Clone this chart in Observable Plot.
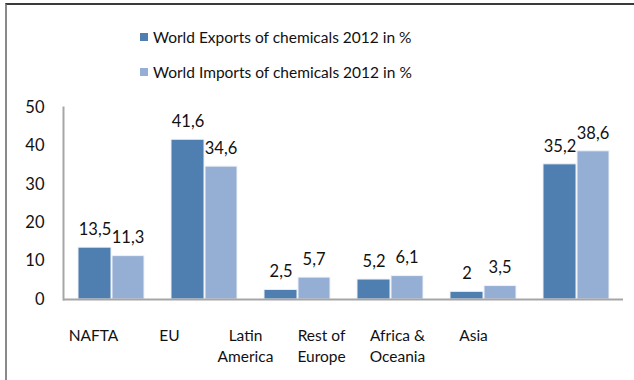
<!DOCTYPE html>
<html>
<head>
<meta charset="utf-8">
<script src="https://cdn.jsdelivr.net/npm/d3@7"></script>
<script src="https://cdn.jsdelivr.net/npm/@observablehq/plot@0.6"></script>
<style>
  html, body { margin: 0; padding: 0; background: #fff; }
  #wrap { position: relative; width: 634px; height: 380px; overflow: hidden; background: #fff;
          font-family: Lato, "Open Sans", sans-serif; }
  #border { position: absolute; left: 5px; top: 3px; right: -4px; bottom: -4px;
            border-top: 2px solid #3a3a3a; border-left: 2px solid #8a8a8a; }
  #legend { position: absolute; left: 140px; top: 26px; font-size: 15.5px; color: #111; }
  .row { display: flex; align-items: center; height: 21px; margin-bottom: 14px; }
  .sw { width: 8px; height: 8px; margin-right: 5px; }
  #main { position: absolute; left: 0; top: 0; }
  #cats { position: absolute; left: 0; top: 322px; }
</style>
</head>
<body>
<div id="wrap">
  <div id="border"></div>
  <div id="legend"></div>
  <div id="main"></div>
  <div id="cats"></div>
</div>
<script>
const categories = ["NAFTA", "EU", "Latin America", "Rest of Europe", "Africa & Oceania", "Asia"];
const categoryLabels = ["NAFTA", "EU", "Latin\nAmerica", "Rest of\nEurope", "Africa &\nOceania", "Asia"];
const exportsPct = [13.5, 41.6, 2.5, 5.2, 2, 35.2];
const importsPct = [11.3, 34.6, 5.7, 6.1, 3.5, 38.6];
const seriesNames = ["World Exports of chemicals 2012 in %", "World Imports of chemicals 2012 in %"];
const seriesColors = ["#4f7fb0", "#95aed4"];
const yTicks = [0, 10, 20, 30, 40, 50];

const fmt = v => String(v).replace(".", ",");
const exportsData = categories.map((c, i) => ({category: c, value: exportsPct[i]}));
const importsData = categories.map((c, i) => ({category: c, value: importsPct[i]}));

// legend
const legend = document.getElementById("legend");
seriesNames.forEach((name, i) => {
  const row = document.createElement("div");
  row.className = "row";
  row.innerHTML = `<div class="sw" style="background:${seriesColors[i]}"></div><span>${name}</span>`;
  legend.appendChild(row);
});

const font = 'Lato, "Open Sans", sans-serif';
const half = 33;

const main = Plot.plot({
  width: 634,
  height: 312,
  marginTop: 107,
  marginBottom: 13,
  marginLeft: 63,
  marginRight: 11,
  style: {fontFamily: font, fontSize: "16.5px", color: "#111", background: "transparent"},
  x: {type: "band", domain: categories, paddingInner: 0.293, paddingOuter: 0.1465, axis: null},
  y: {domain: [0, 50], axis: null},
  marks: [
    Plot.barY(exportsData, {x: "category", y: "value", fill: seriesColors[0], insetRight: half, stroke: "#eef2f8", strokeWidth: 1}),
    Plot.barY(importsData, {x: "category", y: "value", fill: seriesColors[1], insetLeft: half + 1, stroke: "#eef2f8", strokeWidth: 1}),
    Plot.text(exportsData, {x: "category", y: "value", text: d => fmt(d.value), dx: -half / 2, dy: -18, fill: "#111"}),
    Plot.text(importsData, {x: "category", y: "value", text: d => fmt(d.value), dx: half / 2, dy: -18, fill: "#111"}),
    Plot.axisY({ticks: yTicks, tickSize: 0, tickPadding: 19, tickFormat: d => d, label: null, fontSize: 16.5}),
    Plot.frame({anchor: "left", stroke: "#a6a6a6", strokeWidth: 2}),
    Plot.ruleY([0], {stroke: "#a6a6a6", strokeWidth: 2})
  ]
});
document.getElementById("main").appendChild(main);

const cats = Plot.plot({
  width: 634,
  height: 56,
  marginTop: 3,
  marginBottom: 0,
  marginLeft: 52,
  marginRight: 121,
  style: {fontFamily: font, fontSize: "15.5px", color: "#111", background: "transparent"},
  x: {type: "band", domain: categories, padding: 0, axis: null},
  marks: [
    Plot.text(categories, {x: d => d, text: (d, i) => categoryLabels[i], frameAnchor: "top", lineAnchor: "top", lineHeight: 1.38, fill: "#111"})
  ]
});
document.getElementById("cats").appendChild(cats);
</script>
</body>
</html>
